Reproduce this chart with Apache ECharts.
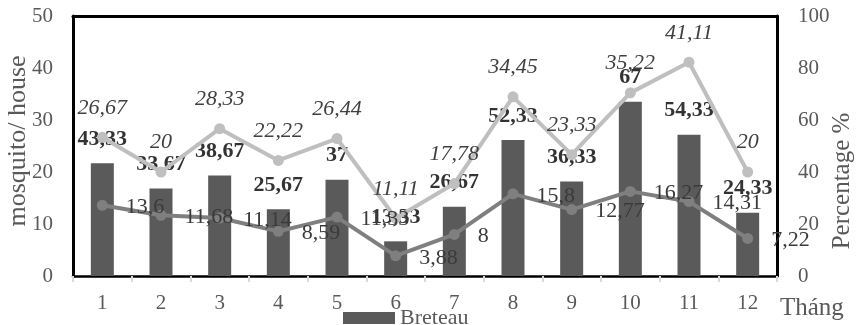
<!DOCTYPE html>
<html>
<head>
<meta charset="utf-8">
<script src="https://cdn.jsdelivr.net/npm/echarts@6/dist/echarts.min.js"></script>
<style>
  html, body { margin: 0; padding: 0; background: #fff; }
  #chart { width: 859px; height: 325px; }
</style>
</head>
<body>
<div id="chart"></div>
<script>
// Months on the category axis
const months = ['1', '2', '3', '4', '5', '6', '7', '8', '9', '10', '11', '12'];

// Breteau index per month (right axis, %)
const breteau = [43.33, 33.67, 38.67, 25.67, 37, 13.33, 26.67, 52.33, 36.33, 67, 54.33, 24.33];

// Upper light line (left axis)
const lightLine = [26.67, 20, 28.33, 22.22, 26.44, 11.11, 17.78, 34.45, 23.33, 35.22, 41.11, 20];

// Lower dark line (left axis)
const darkLine = [13.6, 11.68, 11.14, 8.59, 11.33, 3.88, 8, 15.8, 12.77, 16.27, 14.31, 7.22];

// Axis ranges
const leftAxis = { min: 0, max: 50, interval: 10 };
const rightAxis = { min: 0, max: 100, interval: 20 };

const FONT = '"Liberation Serif", "Times New Roman", serif';
const comma = (v) => String(v).replace('.', ',');
const frame = { show: true, onZero: false, lineStyle: { color: '#000000', width: 3 } };

const chart = echarts.init(document.getElementById('chart'), null, { renderer: 'canvas' });

chart.setOption({
  animation: false,
  backgroundColor: '#ffffff',
  textStyle: { fontFamily: FONT },
  grid: {
    left: 73, right: 82, top: 16, bottom: 49,
    containLabel: false, outerBoundsMode: 'none',
    show: false
  },
  legend: {
    data: ['Breteau'],
    left: 338, top: 302,
    itemWidth: 52, itemHeight: 12,
    icon: 'rect',
    textStyle: { fontFamily: FONT, fontSize: 22, color: '#595959' }
  },
  xAxis: [
    {
      type: 'category',
      data: months,
      boundaryGap: true,
      name: 'Tháng',
      nameLocation: 'end',
      nameGap: 3,
      nameMoveOverlap: false,
      nameTextStyle: {
        fontFamily: FONT, fontSize: 25, color: '#595959',
        align: 'left', verticalAlign: 'top', padding: [20, 0, 0, 0]
      },
      axisLine: { show: true, onZero: false, lineStyle: { color: '#000000', width: 2.5 } },
      axisTick: { show: true, interval: 0, length: 6, lineStyle: { color: '#d9d9d9', width: 2 } },
      axisLabel: { fontFamily: FONT, fontSize: 21, color: '#595959', margin: 17, interval: 0 },
      splitLine: { show: false }
    },
    {
      // top edge of the plot frame
      type: 'category',
      data: months,
      position: 'top',
      axisLine: frame,
      axisTick: { show: false },
      axisLabel: { show: false },
      splitLine: { show: false }
    }
  ],
  yAxis: [
    {
      type: 'value',
      position: 'left',
      min: leftAxis.min, max: leftAxis.max, interval: leftAxis.interval,
      name: 'mosquito/ house',
      nameLocation: 'middle',
      nameRotate: 90,
      nameGap: 42,
      nameMoveOverlap: false,
      nameTextStyle: { fontFamily: FONT, fontSize: 26, color: '#595959', padding: [0, 0, 0, 10] },
      axisLine: frame,
      axisTick: { show: false },
      axisLabel: { fontFamily: FONT, fontSize: 21, color: '#595959', margin: 20 },
      splitLine: { show: false }
    },
    {
      type: 'value',
      position: 'right',
      min: rightAxis.min, max: rightAxis.max, interval: rightAxis.interval,
      name: 'Percentage %',
      nameLocation: 'middle',
      nameRotate: 90,
      nameGap: 53,
      nameMoveOverlap: false,
      nameTextStyle: { fontFamily: FONT, fontSize: 25, color: '#595959', padding: [0, 70, 0, 0] },
      axisLine: frame,
      axisTick: { show: false },
      axisLabel: { fontFamily: FONT, fontSize: 21, color: '#595959', margin: 21 },
      splitLine: { show: false }
    }
  ],
  series: [
    {
      name: 'Breteau',
      type: 'bar',
      yAxisIndex: 1,
      data: breteau,
      barWidth: 23,
      itemStyle: { color: '#5a5a5a' },
      z: 2,
      label: {
        show: true, position: 'top', distance: 13,
        fontFamily: FONT, fontSize: 22, fontWeight: 'bold', color: '#333333',
        formatter: (p) => comma(p.value)
      }
    },
    {
      name: 'Chỉ số 1',
      type: 'line',
      yAxisIndex: 0,
      data: lightLine,
      symbol: 'circle', symbolSize: 11,
      lineStyle: { color: '#bfbfbf', width: 4 },
      itemStyle: { color: '#bfbfbf' },
      z: 3,
      label: {
        show: true, position: 'top', distance: 13,
        fontFamily: FONT, fontSize: 22, fontStyle: 'italic', color: '#404040',
        formatter: (p) => comma(p.value)
      }
    },
    {
      name: 'Chỉ số 2',
      type: 'line',
      yAxisIndex: 0,
      data: darkLine,
      symbol: 'circle', symbolSize: 11,
      lineStyle: { color: '#7f7f7f', width: 4 },
      itemStyle: { color: '#7f7f7f' },
      z: 4,
      label: {
        show: true, position: 'right', distance: 18, offset: [0, 2],
        fontFamily: FONT, fontSize: 22, color: '#3a3a3a',
        formatter: (p) => comma(p.value)
      }
    }
  ]
});
</script>
</body>
</html>
